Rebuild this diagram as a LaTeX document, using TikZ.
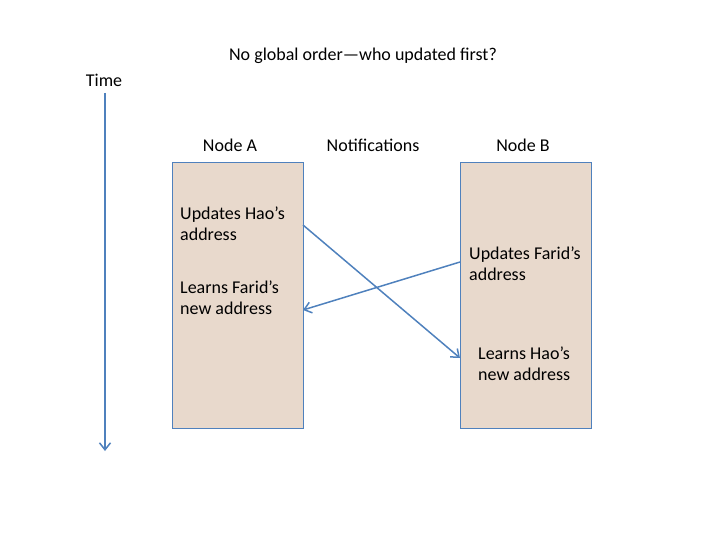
\documentclass[tikz,border=0pt]{standalone}
\usepackage{fontspec}
\setmainfont{Carlito}
\usepackage{xcolor}
\usetikzlibrary{arrows.meta, positioning}

\definecolor{boxfill}{HTML}{E8D9CC}
\definecolor{lineblue}{HTML}{4F81BD}

\begin{document}
\begin{tikzpicture}[x=1pt, y=-1pt, font=\fontsize{18}{21}\selectfont,
    lane/.style={draw=lineblue, fill=boxfill, minimum width=131pt, minimum height=266pt, inner sep=0pt},
    event/.style={align=left, anchor=west, inner sep=0pt},
    msg/.style={draw=lineblue, line width=1.5pt, -{Straight Barb[length=7pt, width=11pt]}}]
    \useasboundingbox (0,0) rectangle (720,540);
    \node (title) at (363, 56) {No global order---who updated first?};
    \node (time) at (104, 80) {Time};
    \coordinate (tstart) at (105, 93);
    \coordinate (tend) at (105, 451);
    \draw[msg] (tstart) -- (tend);
    \node[lane] (boxA) at (237.5, 295) {};
    \node[lane] (boxB) at (525.5, 295) {};
    \node (nameA) at (230, 145) {Node A};
    \node (notif) at (373, 145) {Notifications};
    \node (nameB) at (523, 145) {Node B};
    \node[event] (updA) at (180, 223.5) {Updates Hao’s\\address};
    \node[event] (learnA) at (180, 297.5) {Learns Farid’s\\new address};
    \node[event] (updB) at (469, 263.5) {Updates Farid’s\\address};
    \node[event] (learnB) at (478, 363.5) {Learns Hao’s\\new address};
    \coordinate (sendA) at (303, 225);
    \coordinate (recvB) at (460, 358);
    \coordinate (sendB) at (460, 262);
    \coordinate (recvA) at (303, 310);
    \draw[msg] (sendA) -- (recvB);
    \draw[msg] (sendB) -- (recvA);
\end{tikzpicture}
\end{document}
